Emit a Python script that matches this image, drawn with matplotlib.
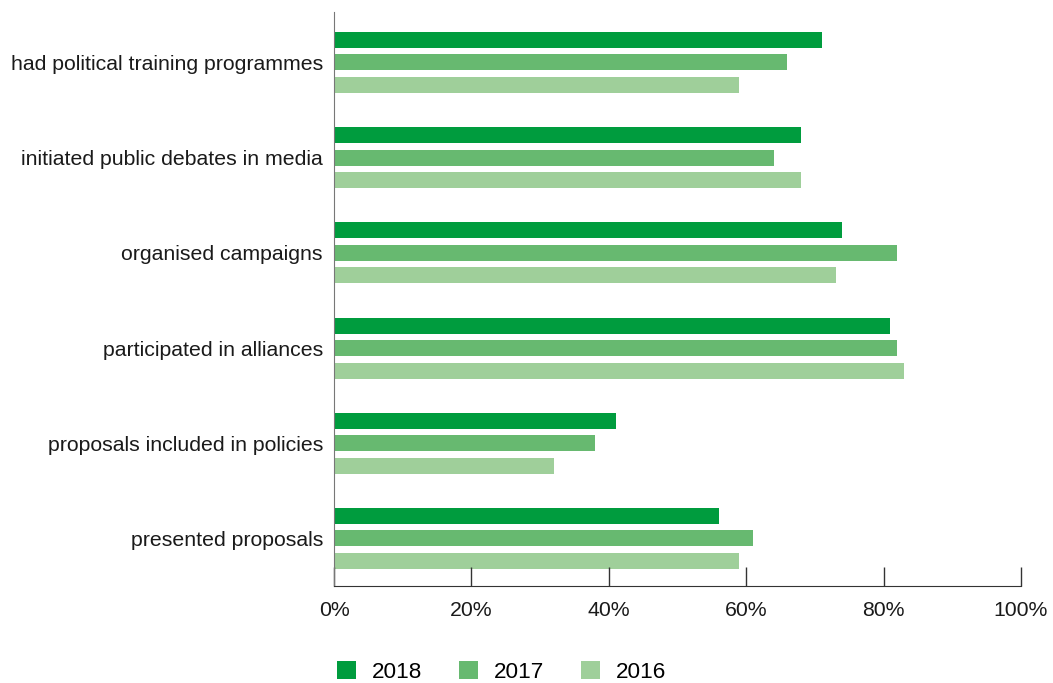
import matplotlib.pyplot as plt
import numpy as np

plt.rcParams['font.family'] = ['Liberation Sans', 'DejaVu Sans']

categories = ['had political training programmes', 'initiated public debates in media',
              'organised campaigns', 'participated in alliances',
              'proposals included in policies', 'presented proposals']
years = ['2018', '2017', '2016']
v2018 = [71, 68, 74, 81, 41, 56]
v2017 = [66, 64, 82, 82, 38, 61]
v2016 = [59, 68, 73, 83, 32, 59]
colors = ['#009c3e', '#67b970', '#9fcf9a']

fs = 15.3

fig = plt.figure(figsize=(10.53, 6.83), dpi=100)
ax = fig.add_axes([0.3172, 0.142, 0.6524, 0.8404])

pos = np.arange(len(categories))[::-1]
h = 0.168
step = 0.236
for i, (vals, lab) in enumerate(zip([v2018, v2017, v2016], years)):
    ax.barh(pos + step * (1 - i), vals, height=h, color=colors[i], label=lab)

ax.set_ylim(-0.5, 5.53)
ax.set_xlim(0, 100)
ax.set_yticks(pos)
ax.set_yticklabels(categories, fontsize=fs, color='#1a1a1a')
ax.tick_params(axis='y', length=0, pad=8)
ax.set_xticks([0, 20, 40, 60, 80, 100])
ax.set_xticklabels(['0%', '20%', '40%', '60%', '80%', '100%'], fontsize=fs, color='#1a1a1a')
ax.tick_params(axis='x', direction='in', length=14, width=1, color='#333333', pad=11)

ax.spines['top'].set_visible(False)
ax.spines['right'].set_visible(False)
ax.spines['left'].set_color('#777777')
ax.spines['bottom'].set_color('#333333')

fig.legend(loc='center left', bbox_to_anchor=(0.305, 0.016), ncol=3, frameon=False,
           fontsize=16.2, handlelength=0.85, handleheight=0.8, handletextpad=0.72,
           columnspacing=1.62, borderpad=0.2)

fig.savefig('out.png', dpi=100)
